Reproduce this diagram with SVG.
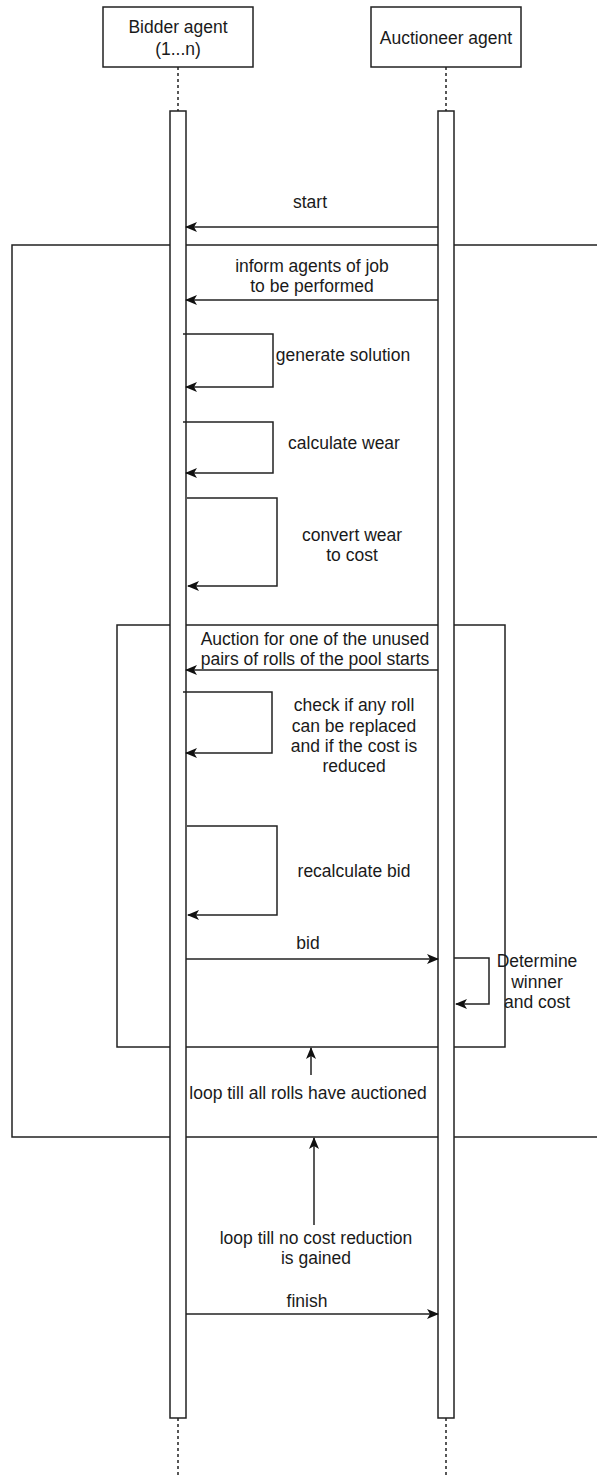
<svg xmlns="http://www.w3.org/2000/svg" width="597" height="1477" viewBox="0 0 597 1477">
<style>
text{font-family:"Liberation Sans",Arial,sans-serif;font-size:17.5px;fill:#1a1a1a;text-anchor:middle}
.ln{fill:none;stroke:#222;stroke-width:1.5}
.fr{fill:none;stroke:#222;stroke-width:1.5}
.bar{fill:#fff;stroke:#222;stroke-width:1.5}
.box{fill:#fff;stroke:#222;stroke-width:1.5}
.dash{stroke:#222;stroke-width:1.5;stroke-dasharray:3,3}
.arr{fill:none;stroke:#222;stroke-width:1.5;marker-end:url(#ah)}
</style>
<defs>
<marker id="ah" markerUnits="userSpaceOnUse" markerWidth="14" markerHeight="12" refX="11" refY="5" orient="auto">
<path d="M0,0 L12,5 L0,10 L3,5 Z" fill="#111"/>
</marker>
</defs>
<g id="frames">
<g id="outer-loop"><path class="fr" d="M600,245 H12 V1137 H600"/></g>
<g id="inner-loop"><rect class="fr" x="117" y="625" width="388" height="422"/></g>
</g>
<g id="bidder">
<rect class="box" x="103" y="7" width="150" height="60"/>
<text x="178" y="33">Bidder agent</text>
<text x="178" y="55">(1...n)</text>
<line class="dash" x1="178" y1="67" x2="178" y2="111"/>
<line class="dash" x1="178" y1="1418" x2="178" y2="1477"/>
<rect class="bar" x="170" y="111" width="16" height="1307"/>
</g>
<g id="auctioneer">
<rect class="box" x="371" y="7" width="150" height="60"/>
<text x="446" y="44">Auctioneer agent</text>
<line class="dash" x1="446" y1="67" x2="446" y2="111"/>
<line class="dash" x1="446" y1="1418" x2="446" y2="1477"/>
<rect class="bar" x="438" y="111" width="16" height="1307"/>
</g>
<g id="connectors">
<line class="arr" x1="438" y1="227" x2="186" y2="227"/>
<line class="arr" x1="438" y1="300" x2="186" y2="300"/>
<path class="arr" d="M183,334 H273 V387 H186"/>
<path class="arr" d="M183,422 H273 V473 H186"/>
<path class="arr" d="M187,498 H277 V586 H188"/>
<line class="arr" x1="438" y1="670" x2="186" y2="670"/>
<path class="arr" d="M183,692 H272 V753 H186"/>
<path class="arr" d="M187,826 H277 V915 H188"/>
<line class="arr" x1="186" y1="959" x2="438" y2="959"/>
<path class="arr" d="M454,958 H489 V1004 H456"/>
<line class="arr" x1="311" y1="1075" x2="311" y2="1048"/>
<line class="arr" x1="314" y1="1225" x2="314" y2="1138"/>
<line class="arr" x1="186" y1="1314" x2="438" y2="1314"/>
</g>
<g id="labels">
<text x="310" y="208">start</text>
<text x="312" y="272">inform agents of job</text>
<text x="312" y="292">to be performed</text>
<text x="343" y="361">generate solution</text>
<text x="344" y="449">calculate wear</text>
<text x="352" y="541">convert wear</text>
<text x="352" y="561">to cost</text>
<text x="315" y="645">Auction for one of the unused</text>
<text x="315" y="665">pairs of rolls of the pool starts</text>
<text x="354" y="711">check if any roll</text>
<text x="354" y="732">can be replaced</text>
<text x="354" y="752">and if the cost is</text>
<text x="354" y="772">reduced</text>
<text x="354" y="877">recalculate bid</text>
<text x="308" y="949">bid</text>
<text x="537" y="967">Determine</text>
<text x="537" y="988">winner</text>
<text x="537" y="1008">and cost</text>
<text x="308" y="1099">loop till all rolls have auctioned</text>
<text x="316" y="1244">loop till no cost reduction</text>
<text x="316" y="1264">is gained</text>
<text x="307" y="1307">finish</text>
</g>
</svg>
